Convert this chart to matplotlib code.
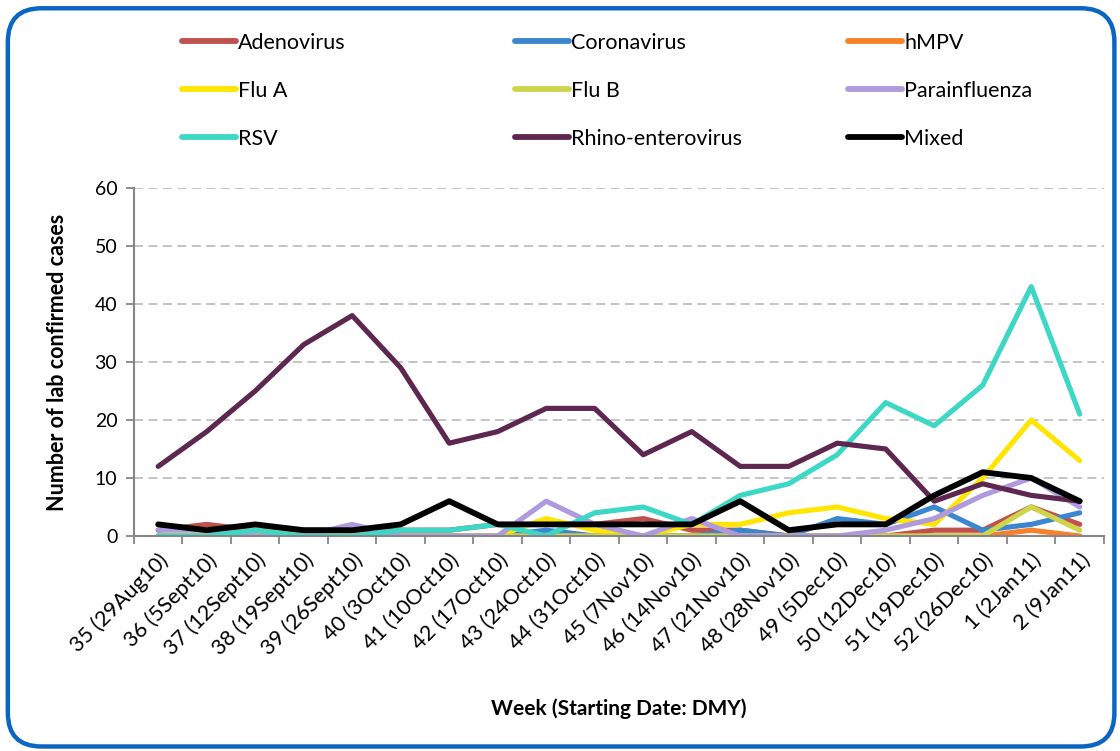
import numpy as np
import matplotlib
matplotlib.use('Agg')
import matplotlib.pyplot as plt
from matplotlib.patches import FancyBboxPatch

plt.rcParams['font.family'] = ['Lato', 'DejaVu Sans']

# Data
weeks = ['35 (29Aug10)', '36 (5Sept10)', '37 (12Sept10)', '38 (19Sept10)',
         '39 (26Sept10)', '40 (3Oct10)', '41 (10Oct10)', '42 (17Oct10)',
         '43 (24Oct10)', '44 (31Oct10)', '45 (7Nov10)', '46 (14Nov10)',
         '47 (21Nov10)', '48 (28Nov10)', '49 (5Dec10)', '50 (12Dec10)',
         '51 (19Dec10)', '52 (26Dec10)', '1 (2Jan11)', '2 (9Jan11)']

adeno = [1, 2, 1, 1, 1, 1, 1, 2, 2, 2, 3, 1, 1, 0, 0, 0, 1, 1, 5, 2]
corona = [0, 0, 0, 0, 0, 0, 0, 0, 1, 0, 0, 0, 1, 0, 3, 2, 5, 1, 2, 4]
hmpv = [0, 0, 1, 0, 0, 0, 0, 0, 0, 0, 0, 0, 0, 0, 0, 0, 0, 0, 1, 0]
flu_a = [0, 0, 0, 0, 0, 0, 0, 0, 3, 1, 0, 2, 2, 4, 5, 3, 2, 10, 20, 13]
flu_b = [0, 0, 0, 0, 0, 0, 0, 0, 0, 0, 0, 0, 0, 0, 0, 0, 0, 0, 5, 1]
para = [1, 1, 0, 0, 2, 0, 0, 0, 6, 2, 0, 3, 0, 0, 0, 1, 3, 7, 10, 5]
rsv = [0, 0, 1, 0, 0, 1, 1, 2, 0, 4, 5, 2, 7, 9, 14, 23, 19, 26, 43, 21]
rhino = [12, 18, 25, 33, 38, 29, 16, 18, 22, 22, 14, 18, 12, 12, 16, 15, 6, 9, 7, 6]
mixed = [2, 1, 2, 1, 1, 2, 6, 2, 2, 2, 2, 2, 6, 1, 2, 2, 7, 11, 10, 6]

series = [
    ('Adenovirus', adeno, '#C0504D'),
    ('Coronavirus', corona, '#3A86D0'),
    ('hMPV', hmpv, '#F7802A'),
    ('Flu A', flu_a, '#FFE500'),
    ('Flu B', flu_b, '#CDD64A'),
    ('Parainfluenza', para, '#AE9ADC'),
    ('RSV', rsv, '#3DD8C5'),
    ('Rhino-enterovirus', rhino, '#5D2750'),
    ('Mixed', mixed, '#000000'),
]

fig = plt.figure(figsize=(11.2, 7.51), dpi=100)

# rounded blue frame
frame = FancyBboxPatch((0.007, 0.006), 0.988, 0.983,
                       boxstyle='round,pad=0,rounding_size=0.03',
                       transform=fig.transFigure, fill=False,
                       edgecolor='#0B66C3', linewidth=3.2, mutation_aspect=1.49)
fig.patches.append(frame)

ax = fig.add_axes([0.1196, 0.2863, 0.8661, 0.4634])
x = np.arange(len(weeks))
handles = {}
for name, vals, col in series:
    lw = 4.2 if name == 'Mixed' else 3.7
    h, = ax.plot(x, vals, color=col, lw=lw, label=name,
                 solid_capstyle='round', solid_joinstyle='round')
    handles[name] = h

ax.set_xlim(-0.5, len(weeks) - 0.5)
ax.set_ylim(0, 60)
ax.set_yticks(np.arange(0, 61, 10))
ax.yaxis.grid(True, color='#BFBFBF', linestyle=(0, (5, 3)), linewidth=1.3)
ax.set_axisbelow(True)

ax.set_xticks(x)
ax.set_xticklabels(weeks, rotation=45, ha='right', va='top',
                   rotation_mode='anchor', fontsize=15.5)
ax.set_xticks(np.arange(-0.5, len(weeks), 1), minor=True)
ax.tick_params(axis='x', which='major', length=0, pad=10)
ax.tick_params(axis='x', which='minor', length=6, color='#868686', width=1.3)
ax.tick_params(axis='y', length=6, color='#868686', width=1.3, labelsize=14, pad=6)

for s in ['top', 'right']:
    ax.spines[s].set_visible(False)
for s in ['left', 'bottom']:
    ax.spines[s].set_color('#868686')
    ax.spines[s].set_linewidth(1.5)

ax.set_ylabel('Number of lab confirmed cases', fontsize=15.5, fontweight='bold', labelpad=19)
ax.set_xlabel('Week (Starting Date: DMY)', fontsize=15, fontweight='bold', labelpad=28)

# legend: three columns placed by hand, row by row
columns = [['Adenovirus', 'Flu A', 'RSV'],
           ['Coronavirus', 'Flu B', 'Rhino-enterovirus'],
           ['hMPV', 'Parainfluenza', 'Mixed']]
col_x = [182, 515, 848]
for names, cx in zip(columns, col_x):
    leg = fig.legend([handles[n] for n in names], names,
                     loc='center left', bbox_to_anchor=(cx / 1120, 1 - 91 / 751),
                     frameon=False, fontsize=15.5, handlelength=2.5,
                     handletextpad=0.12, labelspacing=1.3,
                     borderpad=0, borderaxespad=0)
    for line in leg.get_lines():
        line.set_linewidth(4.2)

fig.savefig('out.png', dpi=100)
